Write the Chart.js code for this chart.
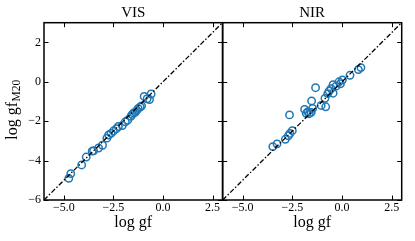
<!DOCTYPE html>
<html>
<head>
<meta charset="utf-8">
<script src="https://cdn.jsdelivr.net/npm/chart.js@4"></script>
<style>
  body { margin: 0; background: #fff; }
  #wrap { position: relative; width: 415px; height: 241px; }
  canvas { position: absolute; left: 0; top: 0; }
</style>
</head>
<body>
<div id="wrap">
  <canvas id="chartVis" width="415" height="241"></canvas>
  <canvas id="chartNir" width="415" height="241"></canvas>
</div>
<script>
// puntos (log gf, log gf M20)
const visX = [-4.75, -4.65, -4.10, -3.87, -3.57, -3.50, -3.25, -3.05, -2.83, -2.74, -2.62, -2.50, -2.35, -2.25,
  -2.05, -1.90, -1.78, -1.62, -1.55, -1.48, -1.40, -1.32, -1.25, -1.15, -1.08, -0.95, -0.80, -0.68, -0.60]
const visY = [-4.90, -4.66, -4.22, -3.82, -3.52, -3.50, -3.36, -3.22, -2.86, -2.70, -2.62, -2.50, -2.38, -2.27,
  -2.22, -2.03, -1.95, -1.75, -1.65, -1.58, -1.55, -1.45, -1.35, -1.28, -1.22, -0.74, -0.86, -0.90, -0.62]

const nirX = [-3.48, -3.27, -2.85, -2.70, -2.62, -2.50, -2.64, -1.88, -1.80, -1.72, -1.65, -1.53, -1.48, -1.55,
  -1.33, -1.05, -0.82, -0.86, -0.72, -0.65, -0.55, -0.45, -0.45, -0.30, -0.15, -0.08, 0.02, 0.40, 0.82, 0.95]
const nirY = [-3.29, -3.15, -2.92, -2.74, -2.62, -2.48, -1.68, -1.40, -1.60, -1.52, -1.62, -0.97, -1.35, -1.55,
  -0.30, -1.20, -1.27, -0.84, -0.60, -0.47, -0.35, -0.15, -0.58, -0.22, 0.00, -0.10, 0.10, 0.33, 0.62, 0.72]

const xTicks = [-5, -2.5, 0, 2.5]
const yTicks = [-6, -4, -2, 0, 2]
const limits = [-6, 3]

const FONT = "'Liberation Serif', 'DejaVu Serif', serif"
const BLUE = '#1f77b4'

const menos = (s) => String(s).replace('-', '\u2212')

const toPoints = (xs, ys) => xs.map((x, i) => ({ x: x, y: ys[i] }))

// marco completo y ticks hacia adentro en los 4 lados
const framePlugin = {
  id: 'frame',
  afterDatasetsDraw(chart) {
    const { ctx, chartArea: a, scales } = chart
    ctx.save()
    ctx.strokeStyle = '#000'
    ctx.lineWidth = 1
    ctx.beginPath()
    scales.x.ticks.forEach(t => {
      const px = Math.round(scales.x.getPixelForValue(t.value)) + 0.5
      ctx.moveTo(px, a.bottom); ctx.lineTo(px, a.bottom - 4.5)
      ctx.moveTo(px, a.top); ctx.lineTo(px, a.top + 4.5)
    })
    scales.y.ticks.forEach(t => {
      const py = Math.round(scales.y.getPixelForValue(t.value)) + 0.5
      ctx.moveTo(a.left, py); ctx.lineTo(a.left + 4.5, py)
      ctx.moveTo(a.right, py); ctx.lineTo(a.right - 4.5, py)
    })
    ctx.stroke()
    ctx.lineWidth = 1.5
    ctx.strokeRect(a.left, a.top, a.right - a.left, a.bottom - a.top)
    ctx.restore()
  }
}

// etiqueta del eje y con subindice
const yLabelPlugin = {
  id: 'yLabel',
  afterDraw(chart) {
    const { ctx } = chart
    ctx.save()
    ctx.fillStyle = '#000'
    ctx.translate(17, 110)
    ctx.rotate(-Math.PI / 2)
    ctx.font = `16px ${FONT}`
    const w1 = ctx.measureText('log gf').width
    ctx.font = `11.5px ${FONT}`
    const w2 = ctx.measureText('M20').width
    const x0 = -(w1 + w2) / 2
    ctx.textBaseline = 'alphabetic'
    ctx.font = `16px ${FONT}`
    ctx.fillText('log gf', x0, 0)
    ctx.font = `11.5px ${FONT}`
    ctx.fillText('M20', x0 + w1 + 0.5, 3)
    ctx.restore()
  }
}

const crearChart = (id, titulo, xs, ys, padding, showY) => {
  const ctx = document.getElementById(id).getContext('2d')
  return new Chart(ctx, {
    type: 'scatter',
    data: {
      datasets: [
        {
          type: 'line',
          data: [{ x: limits[0], y: limits[0] }, { x: limits[1], y: limits[1] }],
          borderColor: '#000',
          borderWidth: 1.3,
          borderDash: [5, 2, 1.5, 2],
          pointRadius: 0,
          fill: false,
          order: 0
        },
        {
          data: toPoints(xs, ys),
          showLine: false,
          pointStyle: 'circle',
          pointRadius: 3.7,
          pointBorderWidth: 1.5,
          pointBorderColor: BLUE,
          pointBackgroundColor: 'rgba(0,0,0,0)',
          order: 1
        }
      ]
    },
    options: {
      responsive: false,
      animation: false,
      events: [],
      layout: { padding: padding },
      plugins: {
        legend: { display: false },
        tooltip: { enabled: false },
        title: {
          display: true,
          text: titulo,
          fullSize: false,
          color: '#000',
          font: { family: FONT, size: 15, weight: 'normal' },
          padding: { top: 4.3, bottom: 0.4 }
        }
      },
      scales: {
        x: {
          type: 'linear',
          min: limits[0],
          max: limits[1],
          afterBuildTicks: (scale) => { scale.ticks = xTicks.map(v => ({ value: v })) },
          afterFit: (scale) => { scale.height = 41 },
          grid: { display: false, drawTicks: false, tickLength: 0 },
          border: { display: false },
          ticks: {
            padding: 1,
            color: '#000',
            maxRotation: 0,
            font: { family: FONT, size: 12 },
            callback: (v) => menos(Number(v).toFixed(1))
          },
          title: {
            display: true,
            text: 'log gf',
            color: '#000',
            font: { family: FONT, size: 16 },
            padding: { top: 9, bottom: 9 }
          }
        },
        y: {
          type: 'linear',
          min: limits[0],
          max: limits[1],
          afterBuildTicks: (scale) => { scale.ticks = yTicks.map(v => ({ value: v })) },
          afterFit: (scale) => { scale.width = showY ? 44 : 0 },
          grid: { display: false, drawTicks: false, tickLength: 0 },
          border: { display: false },
          ticks: {
            display: showY,
            padding: 3,
            color: '#000',
            font: { family: FONT, size: 12 },
            callback: (v) => menos(v)
          }
        }
      }
    },
    plugins: showY ? [framePlugin, yLabelPlugin] : [framePlugin]
  })
}

crearChart('chartVis', 'VIS', visX, visY, { left: 0, right: 415 - 222.5, top: 0, bottom: 0 }, true)
crearChart('chartNir', 'NIR', nirX, nirY, { left: 222.7, right: 13.3, top: 0, bottom: 0 }, false)
</script>
</body>
</html>
